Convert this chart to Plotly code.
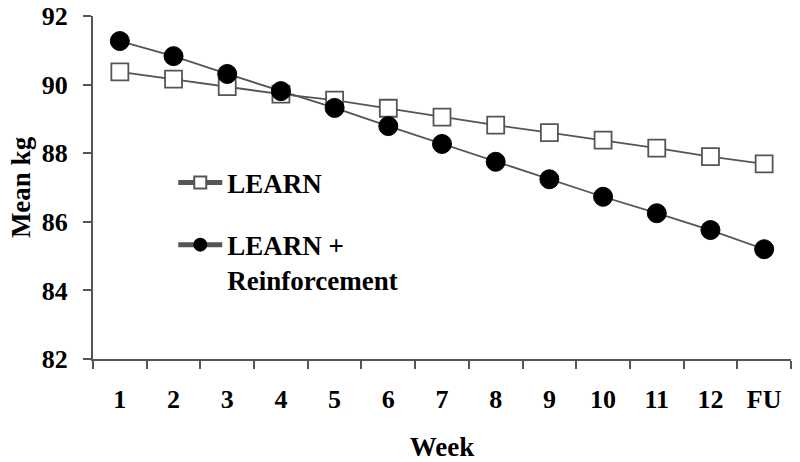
import plotly.graph_objects as go

weeks = ["1", "2", "3", "4", "5", "6", "7", "8", "9", "10", "11", "12", "FU"]
learn = [90.37, 90.16, 89.94, 89.72, 89.55, 89.31, 89.05, 88.82, 88.60, 88.38, 88.15, 87.90, 87.69]
learn_reinf = [91.27, 90.83, 90.31, 89.81, 89.32, 88.79, 88.27, 87.75, 87.24, 86.73, 86.25, 85.76, 85.20]

FONT = "Liberation Serif"
LINE = "#555555"

fig = go.Figure()
fig.add_trace(go.Scatter(
    x=weeks, y=learn, mode="lines+markers", name="LEARN",
    line=dict(color=LINE, width=1.8),
    marker=dict(symbol="square", size=17, color="white", line=dict(color=LINE, width=1.8)),
    legend="legend",
))
fig.add_trace(go.Scatter(
    x=weeks, y=learn_reinf, mode="lines+markers", name="LEARN +<br>Reinforcement",
    line=dict(color=LINE, width=1.8),
    marker=dict(symbol="circle", size=19, color="black", line=dict(color="black", width=1)),
    legend="legend2",
))

def tfont(size):
    return dict(family=FONT, size=size, color="black", weight="bold")

legend_common = dict(
    font=tfont(27),
    bgcolor="rgba(0,0,0,0)", borderwidth=0, xanchor="left", yanchor="middle",
    valign="top", itemsizing="constant", itemwidth=44,
)
fig.update_layout(
    width=800, height=462,
    margin=dict(l=93, r=9, t=16, b=103),
    paper_bgcolor="white", plot_bgcolor="white",
    font=tfont(25),
    showlegend=True,
    legend=dict(x=0.115, y=0.513, **legend_common),
    legend2=dict(x=0.115, y=0.281, **legend_common),
    xaxis=dict(
        type="category", range=[-0.5, 12.5], tickson="boundaries",
        automargin=False,
        showline=True, linecolor=LINE, linewidth=2,
        ticks="outside", ticklen=8, tickwidth=2, tickcolor=LINE,
        ticklabelstandoff=16,
        showgrid=False, zeroline=False,
        tickfont=tfont(26),
        title=dict(text="Week", standoff=26, font=tfont(27)),
    ),
    yaxis=dict(
        range=[82, 92], dtick=2, tick0=82,
        automargin=False, ticklabeloverflow="allow",
        showline=True, linecolor=LINE, linewidth=2,
        ticks="outside", ticklen=8, tickwidth=2, tickcolor=LINE,
        ticklabelstandoff=10,
        showgrid=False, zeroline=False,
        tickfont=tfont(26),
        title=dict(text="Mean kg", standoff=3, font=tfont(27)),
    ),
)
# remove the page's default 8px body margin so the figure fills the window
fig.write_html(
    "out.html",
    config={"displayModeBar": False},
    post_script="document.body.style.margin='0';",
)
